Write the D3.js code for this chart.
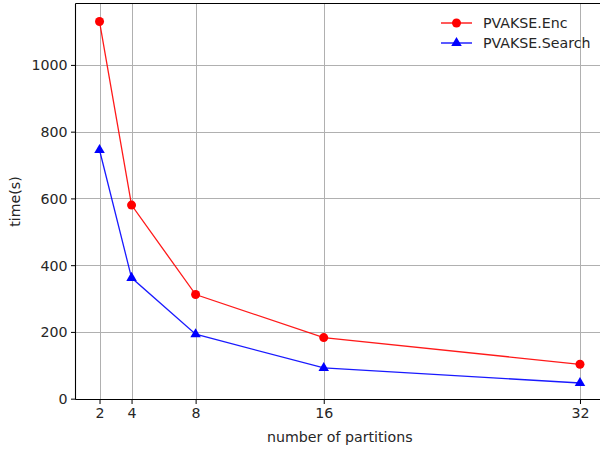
<!DOCTYPE html>
<html><head><meta charset="utf-8">
<script src="https://cdn.jsdelivr.net/npm/d3@7"></script>
<style>
body{margin:0;background:#fff;}
svg{display:block;font-family:"DejaVu Sans",sans-serif;}
</style></head>
<body>
<svg id="c" width="600" height="449"></svg>
<script>
const partitions = [2, 4, 8, 16, 32];
const encTimes = [1130, 580, 312, 183, 103];
const searchTimes = [745, 362, 193, 92, 47];
const yTicks = [0, 200, 400, 600, 800, 1000];
const seriesNames = ["PVAKSE.Enc", "PVAKSE.Search"];
const seriesColors = ["#ff0000", "#0000ff"];

const FS = 14.2;
const svg = d3.select("#c");
const L = 75.5, R = 604, T = 3.5, B = 399.5;
const x = d3.scaleLinear().domain([0.5, 33.5]).range([L, R]);
const y = d3.scaleLinear().domain([-2.5, 1184]).range([B, T]);

const g = svg.append("g");
// grid
g.selectAll(".gx").data(partitions).enter().append("line")
  .attr("x1", d => Math.round(x(d)) + 0.5).attr("x2", d => Math.round(x(d)) + 0.5)
  .attr("y1", T).attr("y2", B).attr("stroke", "#b0b0b0").attr("stroke-width", 1);
g.selectAll(".gy").data(yTicks).enter().append("line")
  .attr("y1", d => Math.round(y(d)) + 0.5).attr("y2", d => Math.round(y(d)) + 0.5)
  .attr("x1", L).attr("x2", R).attr("stroke", "#b0b0b0").attr("stroke-width", 1);

// axes
const xAxis = d3.axisBottom(x).tickValues(partitions).tickSize(4.5).tickPadding(3.5).tickFormat(d3.format("d"));
const yAxis = d3.axisLeft(y).tickValues(yTicks).tickSize(4.5).tickPadding(3.5).tickFormat(d3.format("d"));
const gx = svg.append("g").attr("transform", `translate(0,${B})`).call(xAxis);
const gy = svg.append("g").attr("transform", `translate(${L},0)`).call(yAxis);
[gx, gy].forEach(a => {
  a.select(".domain").remove();
  a.selectAll("text").attr("font-size", FS).attr("fill", "#262626").attr("font-family", "DejaVu Sans");
  a.selectAll("line").attr("stroke", "#000").attr("stroke-width", 1);
});
gy.selectAll("text").attr("dy", "0.35em");

// spines
svg.append("line").attr("x1", L).attr("x2", L).attr("y1", T).attr("y2", B).attr("stroke", "#000").attr("stroke-width", 1.1);
svg.append("line").attr("x1", L).attr("x2", R).attr("y1", T).attr("y2", T).attr("stroke", "#000").attr("stroke-width", 1.1);
svg.append("line").attr("x1", L).attr("x2", R).attr("y1", B).attr("y2", B).attr("stroke", "#000").attr("stroke-width", 1.1);
svg.append("line").attr("x1", R).attr("x2", R).attr("y1", T).attr("y2", B).attr("stroke", "#000").attr("stroke-width", 1.1);

// lines
const line = d3.line().x((d, i) => x(partitions[i])).y(d => y(d));
const tri = d3.symbol().type(d3.symbolTriangle).size(48);
const seriesData = [encTimes, searchTimes];
seriesData.forEach((vals, s) => {
  svg.append("path").datum(vals).attr("d", line).attr("fill", "none")
    .attr("stroke", seriesColors[s]).attr("stroke-width", 1.3).attr("stroke-opacity", 0.9);
  if (s === 0) {
    svg.selectAll(".m0").data(vals).enter().append("circle")
      .attr("cx", (d, i) => x(partitions[i])).attr("cy", d => y(d)).attr("r", 4.5)
      .attr("fill", seriesColors[s]);
  } else {
    svg.selectAll(".m1").data(vals).enter().append("path")
      .attr("d", tri).attr("transform", (d, i) => `translate(${x(partitions[i])},${y(d)})`)
      .attr("fill", seriesColors[s]);
  }
});

// labels
svg.append("text").attr("x", (L + R) / 2).attr("y", 442).attr("text-anchor", "middle")
  .attr("font-size", FS).attr("fill", "#262626").text("number of partitions");
svg.append("text").attr("transform", `translate(20,${(T + B) / 2}) rotate(-90)`).attr("text-anchor", "middle")
  .attr("font-size", FS).attr("fill", "#262626").text("time(s)");

// legend
const lg = svg.append("g");
seriesNames.forEach((n, i) => {
  const yy = 23 + i * 20;
  lg.append("line").attr("x1", 441).attr("x2", 472).attr("y1", yy).attr("y2", yy)
    .attr("stroke", seriesColors[i]).attr("stroke-width", 1.3);
  if (i === 0) lg.append("circle").attr("cx", 456.5).attr("cy", yy).attr("r", 4.5).attr("fill", seriesColors[i]);
  else lg.append("path").attr("d", tri).attr("transform", `translate(456.5,${yy})`).attr("fill", seriesColors[i]);
  lg.append("text").attr("x", 483).attr("y", yy).attr("dy", "0.35em").attr("font-size", FS)
    .attr("fill", "#262626").text(n);
});
</script>
</body></html>
